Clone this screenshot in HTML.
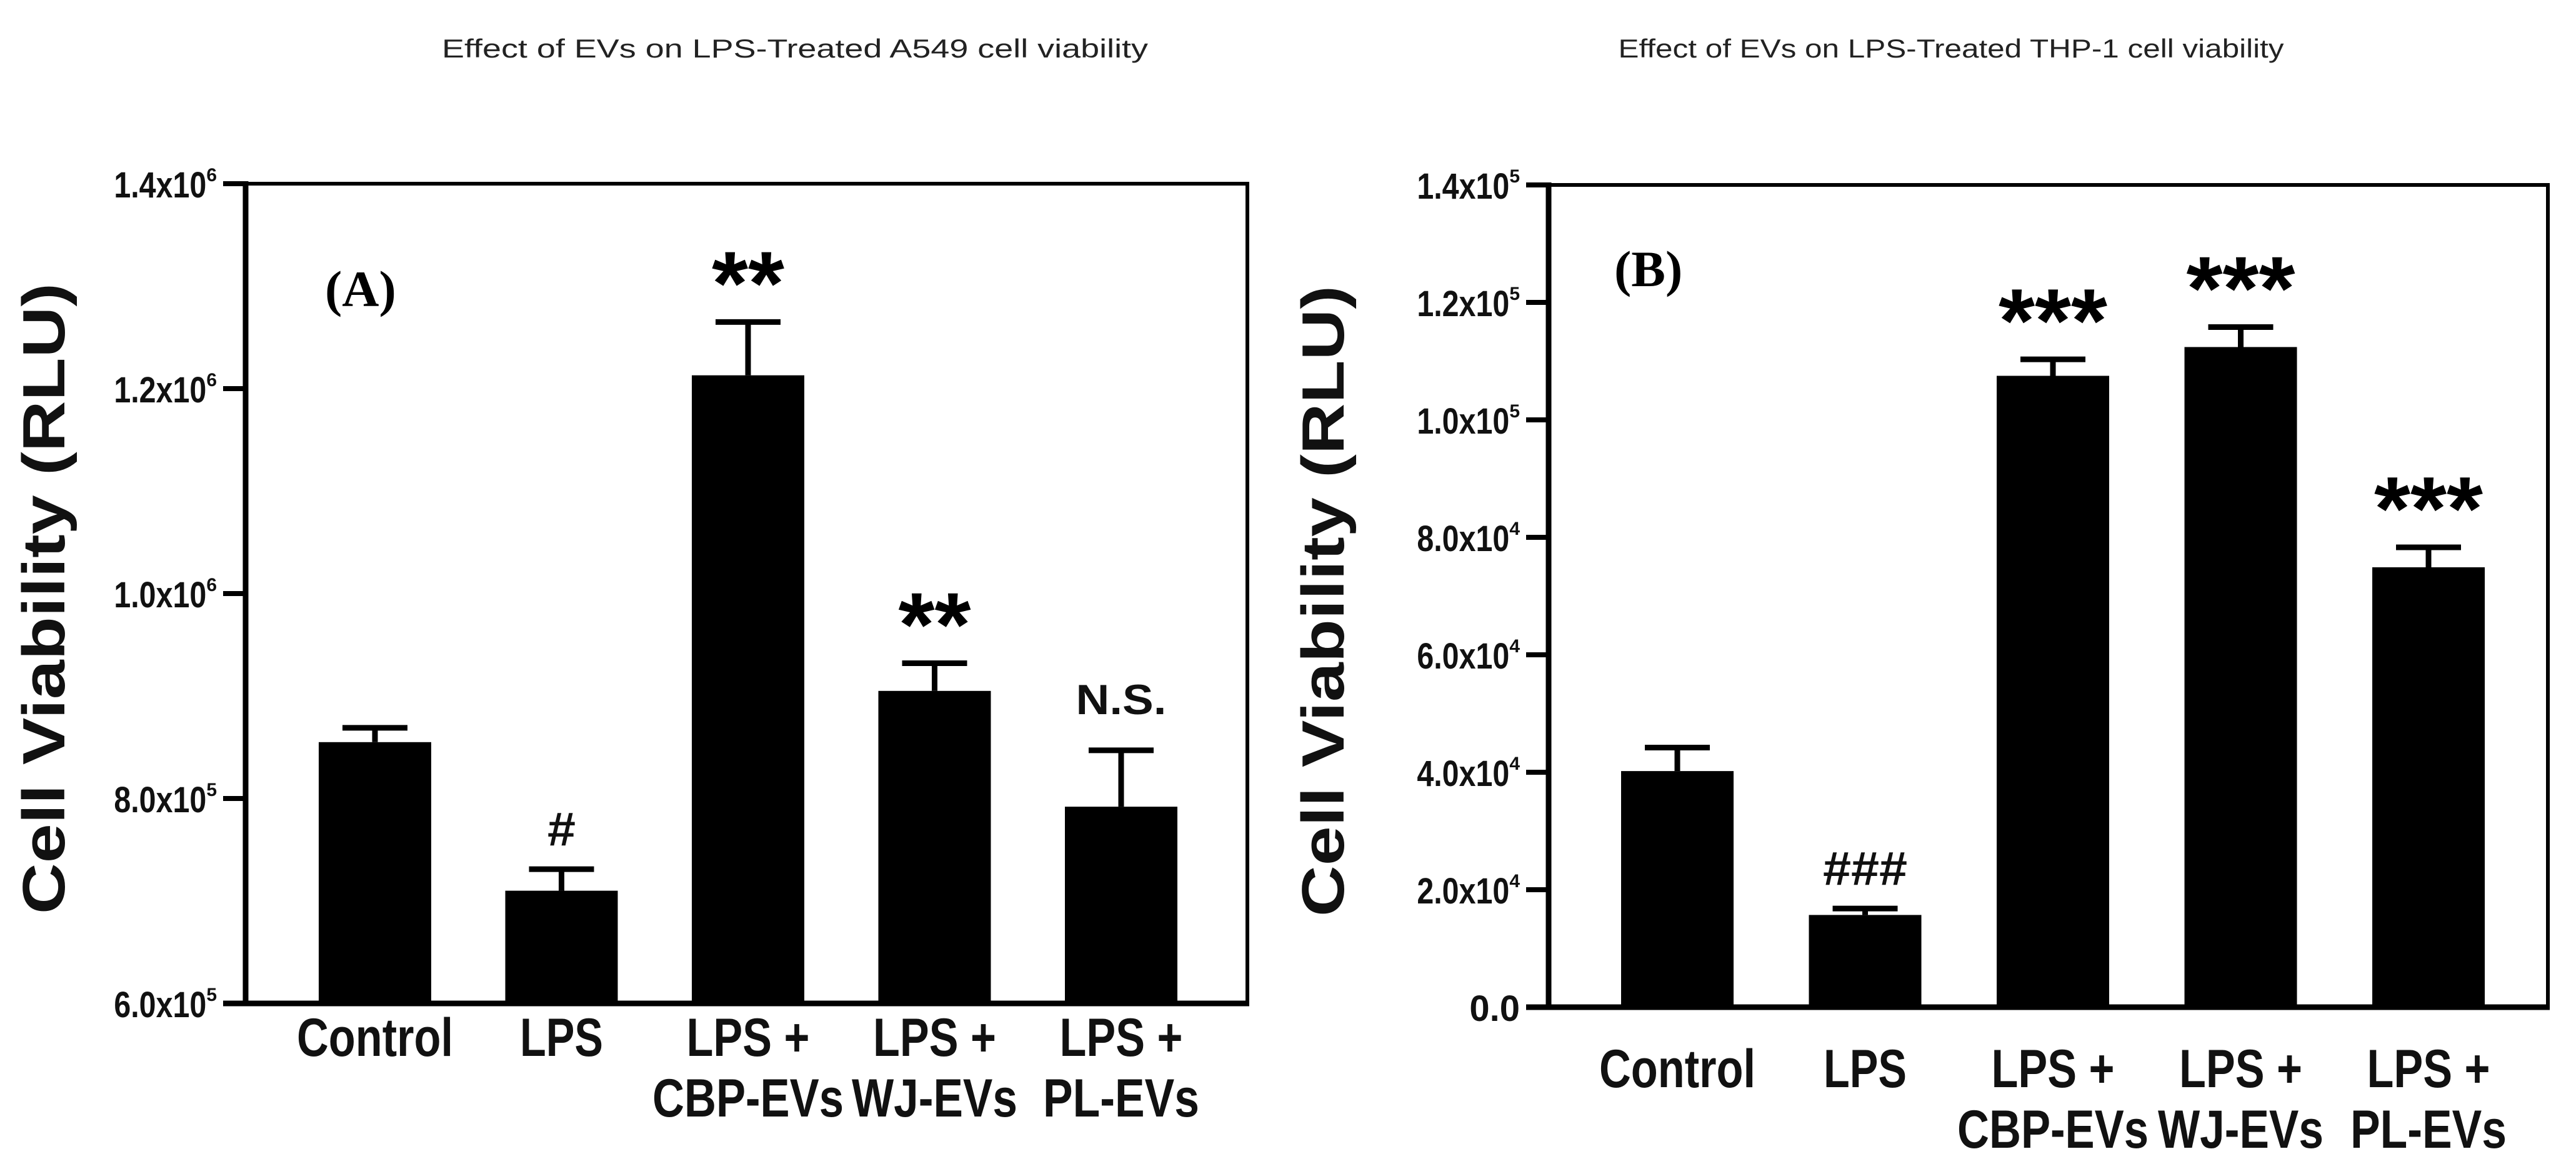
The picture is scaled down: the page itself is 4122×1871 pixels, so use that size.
<!DOCTYPE html>
<html><head><meta charset="utf-8"><style>
html,body{margin:0;padding:0;background:#fff;}
svg{display:block;}
text{font-family:"Liberation Sans",Arial,sans-serif;}
</style></head><body>
<svg id="chart" width="4122" height="1871" viewBox="0 0 4122 1871" xmlns="http://www.w3.org/2000/svg">
<rect width="4122" height="1871" fill="#fff"/>
<text x="1272" y="92" font-size="42" fill="#222" text-anchor="middle" textLength="1130" lengthAdjust="spacingAndGlyphs">Effect of EVs on LPS-Treated A549 cell viability</text>
<text x="3122" y="92" font-size="42" fill="#222" text-anchor="middle" textLength="1065" lengthAdjust="spacingAndGlyphs">Effect of EVs on LPS-Treated THP-1 cell viability</text>
<g id="pa"></g>
<g id="pb"></g>
</svg>
<script>
const categories = [["Control"],["LPS"],["LPS +","CBP-EVs"],["LPS +","WJ-EVs"],["LPS +","PL-EVs"]];
const valuesA = [855000, 710000, 1213000, 905000, 792000];
const errorsA = [14000, 21000, 52000, 27000, 55000];
const marksA = ["", "#", "**", "**", "N.S."];
const ticksA = [600000, 800000, 1000000, 1200000, 1400000];
const tickLabelsA = [["6.0x10","5"],["8.0x10","5"],["1.0x10","6"],["1.2x10","6"],["1.4x10","6"]];
const valuesB = [40200, 15700, 107500, 112400, 74900];
const errorsB = [4000, 1100, 2800, 3400, 3400];
const marksB = ["", "###", "***", "***", "***"];
const ticksB = [0, 20000, 40000, 60000, 80000, 100000, 120000, 140000];
const tickLabelsB = [["0.0",""],["2.0x10","4"],["4.0x10","4"],["6.0x10","4"],["8.0x10","4"],["1.0x10","5"],["1.2x10","5"],["1.4x10","5"]];

const NS="http://www.w3.org/2000/svg";
const labelWidths={"Control":250,"LPS":133,"LPS +":197,"CBP-EVs":306,"WJ-EVs":265,"PL-EVs":250};
function mk(parent, tag, attrs, txt){const e=document.createElementNS(NS,tag);for(const k in attrs)e.setAttribute(k,attrs[k]);if(txt!==undefined)e.textContent=txt;parent.appendChild(e);return e;}

function panel(g, cfg){
  const {x0,x1,y0,y1,min,max,values,errors,marks,ticks,tickLabels,centers0,step,barW,letter,letterX,letterY,suffix}=cfg;
  const Y=v=>y1-(v-min)/(max-min)*(y1-y0);
  const X=i=>centers0+i*step;
  const fr=mk(g,'rect',{x:x0,y:y0,width:x1-x0,height:y1-y0,fill:'none',stroke:'#000','stroke-width':6});
  
  
  const ya=mk(g,'line',{x1:x0,y1:y0-4,x2:x0,y2:y1+4,stroke:'#000','stroke-width':9});
  
  
  const xa=mk(g,'line',{x1:x0-36,y1:y1,x2:x1+3,y2:y1,stroke:'#000','stroke-width':9});
  
  
  ticks.forEach((t,i)=>{
    const y=Y(t);
    const tk=mk(g,'line',{x1:x0-36,y1:y,x2:x0,y2:y,stroke:'#000','stroke-width':8});
    
    
    const lab=tickLabels[i];
    const tx=mk(g,'text',{x:x0-46,y:y+22,'font-size':58,'font-weight':'bold','text-anchor':'end',fill:'#111'});
    
    
    if(lab[1]){
      mk(tx,'tspan',{textLength:148,lengthAdjust:'spacingAndGlyphs'},lab[0]);
      mk(tx,'tspan',{'font-size':30,dy:-26},lab[1]);
    } else {
      tx.textContent=lab[0];
    }
  });
  values.forEach((v,i)=>{
    const cx=X(i), top=Y(v), et=Y(v+errors[i]);
    const b=mk(g,'rect',{x:cx-barW/2,y:top,width:barW,height:y1-top,fill:'#000'});
    
    
    const e=mk(g,'path',{d:`M${cx},${top} V${et} M${cx-52},${et} H${cx+52}`,stroke:'#000','stroke-width':9,fill:'none'});
    
    
    const mkTxt=marks[i];
    if(mkTxt){
      let m;
      if(mkTxt.includes('*')){
        m=mk(g,'text',{x:cx,y:et-12,'font-size':145,'font-weight':'bold','text-anchor':'middle',fill:'#000',textLength:mkTxt.length*58,lengthAdjust:'spacingAndGlyphs'},mkTxt);
      } else if(mkTxt==='N.S.'){
        m=mk(g,'text',{x:cx,y:et-58,'font-size':68,'font-weight':'bold','text-anchor':'middle',fill:'#111',textLength:145,lengthAdjust:'spacingAndGlyphs'},mkTxt);
      } else {
        m=mk(g,'text',{x:cx,y:et-38,'font-size':76,'font-weight':'bold','text-anchor':'middle',fill:'#111',textLength:mkTxt.length*45,lengthAdjust:'spacingAndGlyphs'},mkTxt);
      }
      
      
    }
    categories[i].forEach((line,j)=>{
      const t=mk(g,'text',{x:cx,y:cfg.labY+j*97,'font-size':86,'font-weight':'bold','text-anchor':'middle',fill:'#111'},line);
      t.setAttribute('textLength',labelWidths[line]);
      t.setAttribute('lengthAdjust','spacingAndGlyphs');
      
      
    });
  });
  const yt=mk(g,'text',{x:0,y:0,'font-size':96,'font-weight':'bold','text-anchor':'middle',fill:'#111',transform:`translate(${cfg.titleX},${(y0+y1)/2+8}) rotate(-90)`,textLength:1010,lengthAdjust:'spacingAndGlyphs'},'Cell Viability (RLU)');
  
  
  const lt=mk(g,'text',{x:letterX,y:letterY,'font-size':82,'font-weight':'bold',fill:'#000',style:'font-family:"Liberation Serif",serif'},letter);
  
  
}
panel(document.getElementById('pa'),{x0:393,x1:1996,y0:294,y1:1606,min:600000,max:1400000,values:valuesA,errors:errorsA,marks:marksA,ticks:ticksA,tickLabels:tickLabelsA,centers0:600,step:298.5,barW:180,letter:'(A)',letterX:520,letterY:490,suffix:'a',labY:1690,titleX:103});
panel(document.getElementById('pb'),{x0:2478,x1:4077,y0:296,y1:1612,min:0,max:140000,values:valuesB,errors:errorsB,marks:marksB,ticks:ticksB,tickLabels:tickLabelsB,centers0:2684,step:300.5,barW:180,letter:'(B)',letterX:2583,letterY:458,suffix:'b',labY:1740,titleX:2150});
</script>
</body></html>
